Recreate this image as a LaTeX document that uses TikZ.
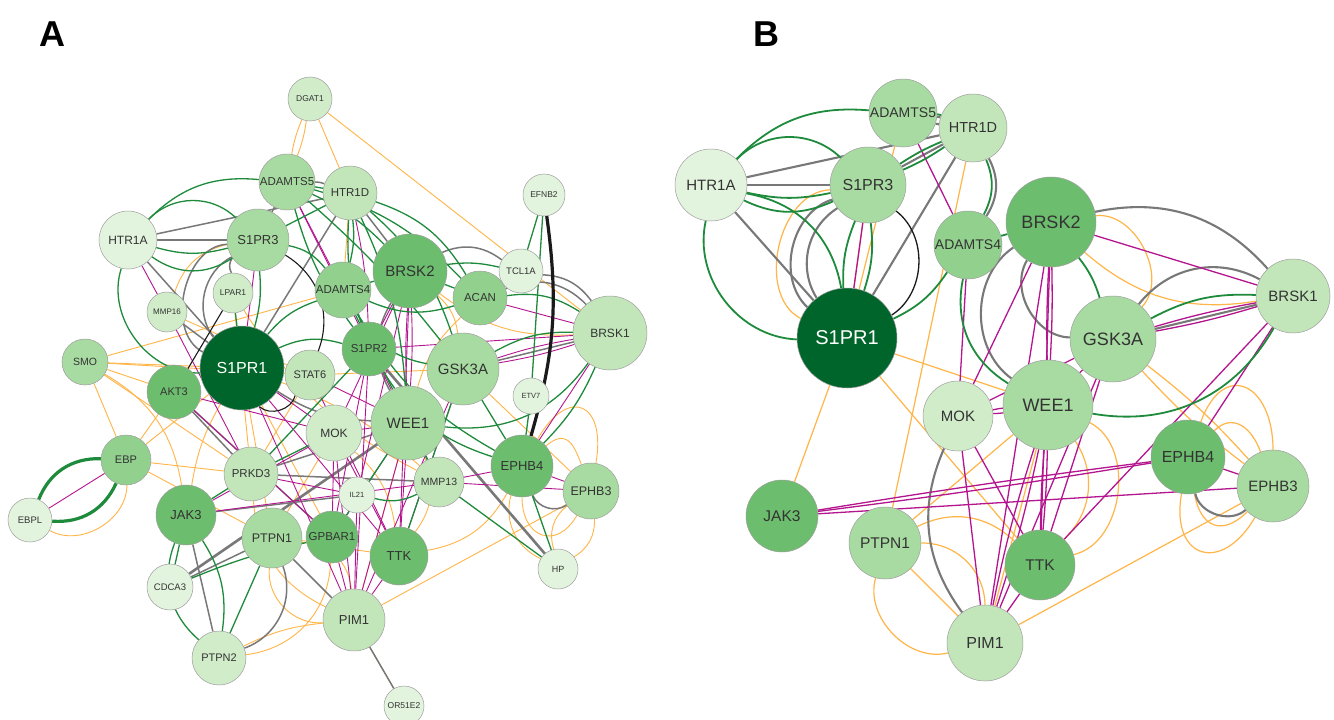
\documentclass[tikz,border=0pt]{standalone}
\usepackage{fontspec}
\setmainfont{Liberation Sans}
\setsansfont{Liberation Sans}
\pgfdeclarelayer{bglayer}
\pgfdeclarelayer{edgelayer}
\pgfsetlayers{bglayer,edgelayer,main}
\definecolor{cG}{HTML}{1E8B3C}
\definecolor{cO}{HTML}{FFB547}
\definecolor{cM}{HTML}{B4158F}
\definecolor{cY}{HTML}{787878}
\definecolor{cK}{HTML}{1A1A1A}
\definecolor{gA}{HTML}{E3F4DE}
\definecolor{gB}{HTML}{D0ECC9}
\definecolor{gC}{HTML}{C2E6BA}
\definecolor{gD}{HTML}{A8DBA1}
\definecolor{gE}{HTML}{92D18D}
\definecolor{gF}{HTML}{6CBD6E}
\definecolor{gG}{HTML}{00652A}
\definecolor{nbord}{HTML}{9E9E9E}
\definecolor{tx}{HTML}{333333}
\newcommand\fsz[1]{\fontsize{#1pt}{#1pt}\selectfont}
\begin{document}
\begin{tikzpicture}[x=1pt,y=-1pt,
  gnode/.style={circle, draw=nbord, line width=0.5pt, inner sep=0pt, text=tx},
  Agr/.style={draw=cG, line width=1.3pt},
  Agrt/.style={draw=cG, line width=3.2pt},
  Aor/.style={draw=cO, line width=0.9pt},
  Amg/.style={draw=cM, line width=0.9pt},
  Agy/.style={draw=cY, line width=1.5pt},
  Agyt/.style={draw=cY, line width=2.6pt},
  Abk/.style={draw=cK, line width=1.1pt},
  Abkt/.style={draw=cK, line width=3.2pt},
  Bgr/.style={draw=cG, line width=1.8pt},
  Bor/.style={draw=cO, line width=1.2pt},
  Bmg/.style={draw=cM, line width=1.3pt},
  Bgy/.style={draw=cY, line width=2.1pt},
  Bbk/.style={draw=cK, line width=1.3pt},
  panel/.style={font=\bfseries\fsz{36}, text=black, inner sep=0pt}]
\begin{pgfonlayer}{bglayer}
\fill[white] (0,0) rectangle (1334,720);
\end{pgfonlayer}
\path[use as bounding box] (0,0) rectangle (1334,720);

\node[panel] (lblA) at (52,34) {A};
\node[panel] (lblB) at (766,34) {B};

% ---------------- Panel A nodes
\node[gnode, minimum size=44pt, fill=gB, font=\fsz{8.5}] (aDGAT1) at (310,99) {DGAT1};
\node[gnode, minimum size=56pt, fill=gD, font=\fsz{11.5}] (aADAMTS5) at (287,182) {ADAMTS5};
\node[gnode, minimum size=54pt, fill=gC, font=\fsz{11.5}] (aHTR1D) at (350,193) {HTR1D};
\node[gnode, minimum size=58pt, fill=gA, font=\fsz{12}] (aHTR1A) at (128,240) {HTR1A};
\node[gnode, minimum size=62pt, fill=gD, font=\fsz{13}] (aS1PR3) at (258,240) {S1PR3};
\node[gnode, minimum size=42pt, fill=gA, font=\fsz{8.5}] (aEFNB2) at (544,195) {EFNB2};
\node[gnode, minimum size=44pt, fill=gA, font=\fsz{9.5}] (aTCL1A) at (521,271) {TCL1A};
\node[gnode, minimum size=74pt, fill=gF, font=\fsz{15}] (aBRSK2) at (410,271) {BRSK2};
\node[gnode, minimum size=56pt, fill=gE, font=\fsz{11.5}] (aADAMTS4) at (343,290) {ADAMTS4};
\node[gnode, minimum size=54pt, fill=gE, font=\fsz{11.5}] (aACAN) at (480,298) {ACAN};
\node[gnode, minimum size=40pt, fill=gB, font=\fsz{8.5}] (aLPAR1) at (233,293) {LPAR1};
\node[gnode, minimum size=40pt, fill=gB, font=\fsz{8}] (aMMP16) at (167,312) {MMP16};
\node[gnode, minimum size=74pt, fill=gC, font=\fsz{12}] (aBRSK1) at (610,333) {BRSK1};
\node[gnode, minimum size=46pt, fill=gD, font=\fsz{10.5}] (aSMO) at (85,362) {SMO};
\node[gnode, minimum size=84pt, fill=gG, font=\fsz{16}, text=white] (aS1PR1) at (242,368) {S1PR1};
\node[gnode, minimum size=54pt, fill=gF, font=\fsz{11}] (aAKT3) at (174,392) {AKT3};
\node[gnode, minimum size=54pt, fill=gF, font=\fsz{11.5}] (aS1PR2) at (369,349) {S1PR2};
\node[gnode, minimum size=50pt, fill=gC, font=\fsz{11}] (aSTAT6) at (310,375) {STAT6};
\node[gnode, minimum size=72pt, fill=gD, font=\fsz{15}] (aGSK3A) at (463,369) {GSK3A};
\node[gnode, minimum size=36pt, fill=gA, font=\fsz{7.5}] (aETV7) at (531,396) {ETV7};
\node[gnode, minimum size=56pt, fill=gB, font=\fsz{12}] (aMOK) at (334,433) {MOK};
\node[gnode, minimum size=74pt, fill=gD, font=\fsz{15}] (aWEE1) at (408,423) {WEE1};
\node[gnode, minimum size=50pt, fill=gE, font=\fsz{11}] (aEBP) at (126,460) {EBP};
\node[gnode, minimum size=54pt, fill=gC, font=\fsz{11.5}] (aPRKD3) at (251,474) {PRKD3};
\node[gnode, minimum size=50pt, fill=gC, font=\fsz{10.5}] (aMMP13) at (439,482) {MMP13};
\node[gnode, minimum size=62pt, fill=gF, font=\fsz{13}] (aEPHB4) at (522,466) {EPHB4};
\node[gnode, minimum size=56pt, fill=gD, font=\fsz{12.5}] (aEPHB3) at (591,491) {EPHB3};
\node[gnode, minimum size=36pt, fill=gA, font=\fsz{7.5}] (aIL21) at (357,495) {IL21};
\node[gnode, minimum size=44pt, fill=gA, font=\fsz{9.5}] (aEBPL) at (30,520) {EBPL};
\node[gnode, minimum size=60pt, fill=gF, font=\fsz{13}] (aJAK3) at (186,515) {JAK3};
\node[gnode, minimum size=60pt, fill=gD, font=\fsz{12.5}] (aPTPN1) at (272,538) {PTPN1};
\node[gnode, minimum size=52pt, fill=gF, font=\fsz{11.5}] (aGPBAR1) at (332,537) {GPBAR1};
\node[gnode, minimum size=58pt, fill=gF, font=\fsz{13}] (aTTK) at (399,556) {TTK};
\node[gnode, minimum size=46pt, fill=gA, font=\fsz{9.5}] (aCDCA3) at (170,587) {CDCA3};
\node[gnode, minimum size=40pt, fill=gA, font=\fsz{9}] (aHP) at (558,569) {HP};
\node[gnode, minimum size=62pt, fill=gC, font=\fsz{13}] (aPIM1) at (354,620) {PIM1};
\node[gnode, minimum size=54pt, fill=gB, font=\fsz{11}] (aPTPN2) at (219,658) {PTPN2};
\node[gnode, minimum size=40pt, fill=gA, font=\fsz{8.5}] (aOR51E2) at (404,706) {OR51E2};

% ---------------- Panel B nodes
\node[gnode, minimum size=68pt, fill=gD, font=\fsz{14}] (bADAMTS5) at (903,113) {ADAMTS5};
\node[gnode, minimum size=68pt, fill=gC, font=\fsz{14.5}] (bHTR1D) at (973,128) {HTR1D};
\node[gnode, minimum size=72pt, fill=gA, font=\fsz{15}] (bHTR1A) at (711,185) {HTR1A};
\node[gnode, minimum size=76pt, fill=gD, font=\fsz{16}] (bS1PR3) at (868,185) {S1PR3};
\node[gnode, minimum size=68pt, fill=gE, font=\fsz{14}] (bADAMTS4) at (968,245) {ADAMTS4};
\node[gnode, minimum size=100pt, fill=gG, font=\fsz{20}, text=white] (bS1PR1) at (847,338) {S1PR1};
\node[gnode, minimum size=90pt, fill=gF, font=\fsz{18}] (bBRSK2) at (1051,222) {BRSK2};
\node[gnode, minimum size=74pt, fill=gC, font=\fsz{15}] (bBRSK1) at (1293,296) {BRSK1};
\node[gnode, minimum size=86pt, fill=gD, font=\fsz{18}] (bGSK3A) at (1113,339) {GSK3A};
\node[gnode, minimum size=90pt, fill=gD, font=\fsz{18}] (bWEE1) at (1048,405) {WEE1};
\node[gnode, minimum size=70pt, fill=gB, font=\fsz{15}] (bMOK) at (958,416) {MOK};
\node[gnode, minimum size=74pt, fill=gF, font=\fsz{16}] (bEPHB4) at (1188,457) {EPHB4};
\node[gnode, minimum size=72pt, fill=gD, font=\fsz{15}] (bEPHB3) at (1273,486) {EPHB3};
\node[gnode, minimum size=72pt, fill=gF, font=\fsz{15.5}] (bJAK3) at (782,516) {JAK3};
\node[gnode, minimum size=72pt, fill=gD, font=\fsz{15.5}] (bPTPN1) at (885,543) {PTPN1};
\node[gnode, minimum size=70pt, fill=gF, font=\fsz{15.5}] (bTTK) at (1040,565) {TTK};
\node[gnode, minimum size=76pt, fill=gC, font=\fsz{16}] (bPIM1) at (985,643) {PIM1};

\begin{pgfonlayer}{edgelayer}
% ======== Panel A: orange
\draw[Aor] (aDGAT1) to[bend left=6] (aADAMTS5);
\draw[Aor] (aDGAT1) to[bend right=6] (aADAMTS5);
\draw[Aor] (aDGAT1) -- (aHTR1D);
\draw[Aor] (aDGAT1) -- (aBRSK1);
\draw[Aor] (aADAMTS5) -- (aS1PR3);
\draw[Aor] (aS1PR3) to[bend right=30] (aMMP16);
\draw[Aor] (aHTR1D) -- (aADAMTS4);
\draw[Aor] (aSMO) -- (aS1PR1);
\draw[Aor] (aSMO) -- (aAKT3);
\draw[Aor] (aSMO) -- (aSTAT6);
\draw[Aor] (aSMO) -- (aPRKD3);
\draw[Aor] (aSMO) -- (aEBP);
\draw[Aor] (aSMO) to[bend left=25] (aJAK3);
\draw[Aor] (aSMO) -- (aADAMTS4);
\draw[Aor] (aAKT3) -- (aEBP);
\draw[Aor] (aEBP) -- (aS1PR1);
\draw[Aor] (aEBPL) to[bend right=60] (aEBP);
\draw[Aor] (aEBP) -- (aPRKD3);
\draw[Aor] (aEBP) -- (aPTPN1);
\draw[Aor] (aJAK3) to[bend left=10] (aS1PR1);
\draw[Aor] (aPTPN1) to[bend left=40] (aPIM1);
\draw[Aor] (aPTPN1) to[bend right=50] (aPIM1);
\draw[Aor] (aPTPN2) to[bend left=10] (aPIM1);
\draw[Aor] (aPTPN2) to[bend right=40] (aGPBAR1);
\draw[Aor] (aPIM1) -- (aEPHB3);
\draw[Aor] (aWEE1) to[bend left=30] (aTTK);
\draw[Aor] (aWEE1) -- (aPIM1);
\draw[Aor] (aMOK) -- (aPTPN1);
\draw[Aor] (aSTAT6) -- (aPRKD3);
\draw[Aor] (aEPHB4) to[out=60,in=80,looseness=2.5] (aEPHB3);
\draw[Aor] (aEPHB4) to[out=40,in=110,looseness=1.6] (aEPHB3);
\draw[Aor] (aEPHB4) to[out=-90,in=-120,looseness=1.8] (aEPHB3);
\draw[Aor] (aEPHB4) to[bend right=40] (aHP);
\draw[Aor] (aEPHB3) to[bend left=30] (aHP);
\draw[Aor] (aEPHB3) to[bend right=35] (aHP);
\draw[Aor] (aGSK3A) -- (aEPHB3);
\draw[Aor] (aBRSK2) to[bend left=20] (aGSK3A);
\draw[Aor] (aBRSK2) to[bend right=20] (aBRSK1);
\draw[Aor] (aPIM1) -- (aOR51E2);
\draw[Aor] (aTTK) to[bend right=25] (aEPHB4);
\draw[Aor] (aS1PR1) -- (aPTPN1);
\draw[Aor] (aS1PR1) -- (aGPBAR1);
\draw[Aor] (aLPAR1) -- (aPRKD3);
\draw[Aor] (aMMP16) -- (aSTAT6);
\draw[Aor] (aPTPN1) -- (aTTK);
\draw[Aor] (aS1PR1) to[bend left=10] (aMMP13);
\draw[Aor] (aACAN) to[bend right=15] (aWEE1);
\draw[Aor] (aPRKD3) to[bend right=30] (aPIM1);
\draw[Aor] (aMOK) to[bend left=20] (aTTK);
\draw[Aor] (aSTAT6) -- (aGSK3A);
\draw[Aor] (aLPAR1) to[bend right=15] (aMMP13);
% ======== Panel A: gray
\draw[Agy] (aHTR1A) -- (aHTR1D);
\draw[Agy] (aHTR1A) -- (aS1PR3);
\draw[Agy] (aHTR1A) -- (aS1PR1);
\draw[Agy] (aS1PR3) to[bend right=50] (aS1PR1);
\draw[Agy] (aS1PR3) to[bend right=75] (aS1PR1);
\draw[Agy] (aHTR1D) -- (aS1PR1);
\draw[Agy] (aADAMTS5) to[bend left=10] (aHTR1D);
\draw[Agy] (aS1PR3) -- (aADAMTS5);
\draw[Agy] (aHTR1D) -- (aBRSK2);
\draw[Agy] (aBRSK2) to[bend left=30] (aTCL1A);
\draw[Agy] (aTCL1A) to[bend left=25] (aBRSK1);
\draw[Agy] (aACAN) to[bend left=35] (aBRSK1);
\draw[Agy] (aGSK3A) -- (aBRSK1);
\draw[Agyt] (aS1PR2) -- (aHP);
\draw[Agyt] (aCDCA3) -- (aWEE1);
\draw[Agy] (aCDCA3) -- (aPTPN1);
\draw[Agy] (aAKT3) -- (aPRKD3);
\draw[Agy] (aAKT3) -- (aGPBAR1);
\draw[Agy] (aPRKD3) -- (aMMP13);
\draw[Agy] (aPRKD3) -- (aWEE1);
\draw[Agy] (aJAK3) -- (aPTPN2);
\draw[Agy] (aJAK3) -- (aIL21);
\draw[Agy] (aPTPN1) to[bend left=45] (aPTPN2);
\draw[Agy] (aPTPN1) -- (aPIM1);
\draw[Agy] (aPIM1) -- (aOR51E2);
\draw[Agy] (aEPHB4) to[bend right=50] (aEPHB3);
\draw[Agy] (aS1PR1) to[bend right=15] (aWEE1);
\draw[Agy] (aBRSK2) to[bend right=30] (aWEE1);
\draw[Agy] (aMMP16) -- (aS1PR1);
\draw[Agy] (aLPAR1) to[bend left=30] (aS1PR3);
% ======== Panel A: magenta
\draw[Amg] (aHTR1A) -- (aMMP16);
\draw[Amg] (aMMP16) -- (aPRKD3);
\draw[Amg] (aS1PR3) -- (aS1PR1);
\draw[Amg] (aADAMTS5) -- (aADAMTS4);
\draw[Amg] (aHTR1D) to[bend left=5] (aS1PR2);
\draw[Amg] (aADAMTS5) -- (aWEE1);
\draw[Amg] (aBRSK2) -- (aS1PR2);
\draw[Amg] (aBRSK2) to[bend left=3] (aWEE1);
\draw[Amg] (aBRSK2) to[bend right=3] (aWEE1);
\draw[Amg] (aBRSK2) -- (aMOK);
\draw[Amg] (aBRSK2) -- (aTTK);
\draw[Amg] (aBRSK2) -- (aIL21);
\draw[Amg] (aACAN) -- (aBRSK1);
\draw[Amg] (aGSK3A) to[bend left=4] (aBRSK1);
\draw[Amg] (aGSK3A) to[bend right=4] (aBRSK1);
\draw[Amg] (aBRSK1) -- (aEPHB4);
\draw[Amg] (aBRSK1) -- (aS1PR2);
\draw[Amg] (aS1PR2) -- (aPIM1);
\draw[Amg] (aWEE1) -- (aMOK);
\draw[Amg] (aWEE1) -- (aTTK);
\draw[Amg] (aWEE1) -- (aPIM1);
\draw[Amg] (aWEE1) -- (aGPBAR1);
\draw[Amg] (aMOK) -- (aPIM1);
\draw[Amg] (aMOK) -- (aTTK);
\draw[Amg] (aMOK) -- (aGPBAR1);
\draw[Amg] (aJAK3) -- (aMMP13);
\draw[Amg] (aJAK3) -- (aMOK);
\draw[Amg] (aPRKD3) -- (aIL21);
\draw[Amg] (aAKT3) -- (aGPBAR1);
\draw[Amg] (aAKT3) -- (aMOK);
\draw[Amg] (aS1PR1) -- (aTTK);
\draw[Amg] (aS1PR1) -- (aPIM1);
\draw[Amg] (aS1PR1) -- (aMOK);
\draw[Amg] (aMMP13) -- (aEPHB4);
\draw[Amg] (aMMP13) -- (aEPHB3);
\draw[Amg] (aEPHB4) -- (aEPHB3);
\draw[Amg] (aEBP) -- (aEBPL);
\draw[Amg] (aGSK3A) -- (aTTK);
\draw[Amg] (aGSK3A) -- (aPIM1);
\draw[Amg] (aTTK) -- (aPIM1);
\draw[Amg] (aIL21) -- (aPIM1);
\draw[Amg] (aGPBAR1) -- (aPIM1);
\draw[Amg] (aS1PR2) -- (aGPBAR1);
\draw[Amg] (aSTAT6) -- (aTTK);
\draw[Amg] (aSTAT6) -- (aWEE1);
% ======== Panel A: green
\draw[Agr] (aHTR1A) to[bend left=25] (aADAMTS5);
\draw[Agr] (aHTR1A) to[bend left=45] (aS1PR3);
\draw[Agr] (aHTR1A) to[bend right=15] (aS1PR3);
\draw[Agr] (aHTR1A) to[bend right=35] (aS1PR3);
\draw[Agr] (aHTR1A) to[bend right=55] (aS1PR1);
\draw[Agr] (aADAMTS5) -- (aHTR1D);
\draw[Agr] (aADAMTS5) to[bend left=10] (aBRSK2);
\draw[Agr] (aADAMTS5) to[bend left=15] (aACAN);
\draw[Agr] (aADAMTS5) to[bend right=10] (aS1PR2);
\draw[Agr] (aADAMTS5) to[bend left=5] (aGSK3A);
\draw[Agr] (aHTR1D) to[bend left=10] (aADAMTS4);
\draw[Agr] (aHTR1D) to[bend left=20] (aACAN);
\draw[Agr] (aHTR1D) to[bend right=10] (aS1PR2);
\draw[Agr] (aHTR1D) to[bend left=10] (aWEE1);
\draw[Agr] (aHTR1D) to[bend left=15] (aGSK3A);
\draw[Agr] (aS1PR3) -- (aHTR1D);
\draw[Agr] (aS1PR3) to[bend left=10] (aS1PR1);
\draw[Agr] (aS1PR3) to[bend left=20] (aADAMTS4);
\draw[Agr] (aBRSK2) to[bend left=10] (aTCL1A);
\draw[Agr] (aBRSK2) -- (aACAN);
\draw[Agr] (aADAMTS4) -- (aBRSK2);
\draw[Agr] (aADAMTS4) to[bend right=20] (aACAN);
\draw[Agr] (aADAMTS4) to[bend right=15] (aEPHB4);
\draw[Agr] (aADAMTS4) to[bend right=25] (aGSK3A);
\draw[Agr] (aADAMTS4) -- (aMMP13);
\draw[Agr] (aEFNB2) -- (aTCL1A);
\draw[Agr] (aEFNB2) -- (aETV7);
\draw[Agr] (aETV7) -- (aEPHB4);
\draw[Agr] (aACAN) to[bend left=20] (aBRSK1);
\draw[Agr] (aGSK3A) to[bend left=15] (aBRSK1);
\draw[Agr] (aWEE1) to[bend right=30] (aBRSK1);
\draw[Agr] (aBRSK1) to[bend left=10] (aEPHB4);
\draw[Agr] (aGSK3A) -- (aEPHB4);
\draw[Agr] (aMMP13) -- (aHP);
\draw[Agr] (aEPHB4) -- (aHP);
\draw[Agr] (aWEE1) -- (aMMP13);
\draw[Agr] (aS1PR1) to[bend left=15] (aADAMTS4);
\draw[Agr] (aS1PR1) to[bend left=20] (aS1PR2);
\draw[Agr] (aLPAR1) -- (aS1PR1);
\draw[Agr] (aPRKD3) -- (aS1PR2);
\draw[Agr] (aJAK3) -- (aPRKD3);
\draw[Agr] (aJAK3) to[bend right=35] (aPTPN2);
\draw[Agr] (aJAK3) to[bend left=20] (aPTPN2);
\draw[Agr] (aJAK3) -- (aCDCA3);
\draw[Agr] (aCDCA3) to[bend left=5] (aGPBAR1);
\draw[Agr] (aPTPN1) -- (aPTPN2);
\draw[Agr] (aIL21) to[bend right=20] (aMMP13);
\draw[Agr] (aPRKD3) -- (aMOK);
\draw[Agr] (aGPBAR1) -- (aWEE1);
\draw[Agr] (aTTK) -- (aGSK3A);
\draw[Agr] (aS1PR2) to[bend right=20] (aEPHB4);
\draw[Agrt] (aEBPL) to[bend left=35] (aEBP);
\draw[Agrt] (aEBPL) to[bend right=35] (aEBP);
% ======== Panel A: black
\draw[Abkt] (aEFNB2) to[bend left=12] (aEPHB4);
\draw[Abk] (aS1PR3) to[bend left=40] (aSTAT6);
\draw[Abk] (aLPAR1) -- (aAKT3);
\draw[Abk] (aS1PR1) to[bend right=60] (aSTAT6);

% ======== Panel B: orange
\draw[Bor] (bS1PR3) -- (bS1PR1);
\draw[Bor] (bS1PR3) to[bend right=75] (bS1PR1);
\draw[Bor] (bADAMTS5) -- (bS1PR1);
\draw[Bor] (bHTR1D) -- (bPTPN1);
\draw[Bor] (bS1PR1) -- (bJAK3);
\draw[Bor] (bS1PR1) -- (bWEE1);
\draw[Bor] (bS1PR1) -- (bTTK);
\draw[Bor] (bBRSK2) to[bend left=70] (bGSK3A);
\draw[Bor] (bBRSK2) to[bend right=25] (bBRSK1);
\draw[Bor] (bGSK3A) to[bend left=5] (bEPHB3);
\draw[Bor] (bGSK3A) to[bend right=5] (bEPHB3);
\draw[Bor] (bWEE1) -- (bPTPN1);
\draw[Bor] (bWEE1) -- (bPIM1);
\draw[Bor] (bWEE1) to[bend left=40] (bTTK);
\draw[Bor] (bWEE1) to[bend left=70] (bTTK);
\draw[Bor] (bPTPN1) to[bend left=45] (bPIM1);
\draw[Bor] (bPTPN1) to[bend right=60] (bPIM1);
\draw[Bor] (bPTPN1) -- (bPIM1);
\draw[Bor] (bPTPN1) to[bend left=35] (bTTK);
\draw[Bor] (bPIM1) -- (bEPHB3);
\draw[Bor] (bEPHB4) to[out=70,in=90,looseness=2.2] (bEPHB3);
\draw[Bor] (bEPHB4) to[out=45,in=110,looseness=1.3] (bEPHB3);
\draw[Bor] (bEPHB4) to[out=-100,in=-120,looseness=2.2] (bEPHB3);
\draw[Bor] (bEPHB4) to[out=-80,in=-135,looseness=1.6] (bEPHB3);
% ======== Panel B: gray
\draw[Bgy] (bHTR1A) -- (bHTR1D);
\draw[Bgy] (bHTR1A) -- (bS1PR3);
\draw[Bgy] (bHTR1A) -- (bS1PR1);
\draw[Bgy] (bS1PR3) to[bend right=45] (bS1PR1);
\draw[Bgy] (bS1PR3) to[bend right=60] (bS1PR1);
\draw[Bgy] (bS1PR3) -- (bHTR1D);
\draw[Bgy] (bADAMTS5) to[bend left=6] (bHTR1D);
\draw[Bgy] (bADAMTS5) to[bend right=6] (bHTR1D);
\draw[Bgy] (bHTR1D) -- (bS1PR1);
\draw[Bgy] (bHTR1D) to[bend left=30] (bADAMTS4);
\draw[Bgy] (bBRSK2) to[bend left=30] (bBRSK1);
\draw[Bgy] (bBRSK2) to[bend right=60] (bGSK3A);
\draw[Bgy] (bBRSK2) to[bend right=55] (bWEE1);
\draw[Bgy] (bGSK3A) to[bend left=40] (bBRSK1);
\draw[Bgy] (bGSK3A) -- (bBRSK1);
\draw[Bgy] (bMOK) to[bend right=30] (bPIM1);
\draw[Bgy] (bEPHB4) to[bend right=60] (bEPHB3);
% ======== Panel B: magenta
\draw[Bmg] (bS1PR3) -- (bS1PR1);
\draw[Bmg] (bADAMTS5) -- (bADAMTS4);
\draw[Bmg] (bADAMTS4) -- (bMOK);
\draw[Bmg] (bBRSK2) -- (bBRSK1);
\draw[Bmg] (bBRSK2) to[bend left=2] (bWEE1);
\draw[Bmg] (bBRSK2) to[bend right=2] (bWEE1);
\draw[Bmg] (bBRSK2) -- (bMOK);
\draw[Bmg] (bBRSK2) -- (bTTK);
\draw[Bmg] (bBRSK2) -- (bPIM1);
\draw[Bmg] (bGSK3A) to[bend left=3] (bBRSK1);
\draw[Bmg] (bGSK3A) to[bend right=3] (bBRSK1);
\draw[Bmg] (bBRSK1) -- (bEPHB4);
\draw[Bmg] (bBRSK1) -- (bTTK);
\draw[Bmg] (bGSK3A) -- (bWEE1);
\draw[Bmg] (bGSK3A) -- (bMOK);
\draw[Bmg] (bGSK3A) -- (bTTK);
\draw[Bmg] (bGSK3A) -- (bPIM1);
\draw[Bmg] (bMOK) to[bend left=3] (bWEE1);
\draw[Bmg] (bMOK) to[bend right=3] (bWEE1);
\draw[Bmg] (bMOK) -- (bPIM1);
\draw[Bmg] (bMOK) -- (bTTK);
\draw[Bmg] (bWEE1) to[bend left=2] (bTTK);
\draw[Bmg] (bWEE1) to[bend right=2] (bTTK);
\draw[Bmg] (bWEE1) to[bend left=3] (bPIM1);
\draw[Bmg] (bWEE1) to[bend right=3] (bPIM1);
\draw[Bmg] (bTTK) -- (bPIM1);
\draw[Bmg] (bJAK3) to[bend left=1] (bEPHB4);
\draw[Bmg] (bJAK3) to[bend right=1] (bEPHB4);
\draw[Bmg] (bJAK3) -- (bEPHB3);
\draw[Bmg] (bEPHB4) -- (bEPHB3);
% ======== Panel B: green
\draw[Bgr] (bHTR1A) to[bend left=25] (bADAMTS5);
\draw[Bgr] (bHTR1A) to[bend left=45] (bS1PR3);
\draw[Bgr] (bHTR1A) to[bend right=12] (bS1PR3);
\draw[Bgr] (bHTR1A) to[bend right=25] (bS1PR3);
\draw[Bgr] (bHTR1A) to[bend right=50] (bS1PR1);
\draw[Bgr] (bHTR1A) to[bend left=35] (bS1PR1);
\draw[Bgr] (bS1PR3) to[bend left=12] (bS1PR1);
\draw[Bgr] (bS1PR3) to[bend right=12] (bS1PR1);
\draw[Bgr] (bS1PR3) to[bend left=5] (bHTR1D);
\draw[Bgr] (bS1PR3) to[bend right=5] (bHTR1D);
\draw[Bgr] (bADAMTS5) to[bend left=10] (bHTR1D);
\draw[Bgr] (bHTR1D) to[bend left=25] (bADAMTS4);
\draw[Bgr] (bS1PR1) to[bend right=15] (bADAMTS4);
\draw[Bgr] (bADAMTS4) to[bend right=35] (bWEE1);
\draw[Bgr] (bWEE1) to[bend right=35] (bBRSK1);
\draw[Bgr] (bBRSK2) -- (bADAMTS4);
\draw[Bgr] (bBRSK2) to[bend left=10] (bGSK3A);
\draw[Bgr] (bGSK3A) to[bend left=15] (bBRSK1);
% ======== Panel B: black
\draw[Bbk] (bS1PR3) to[bend left=55] (bS1PR1);
\end{pgfonlayer}
\end{tikzpicture}
\end{document}
